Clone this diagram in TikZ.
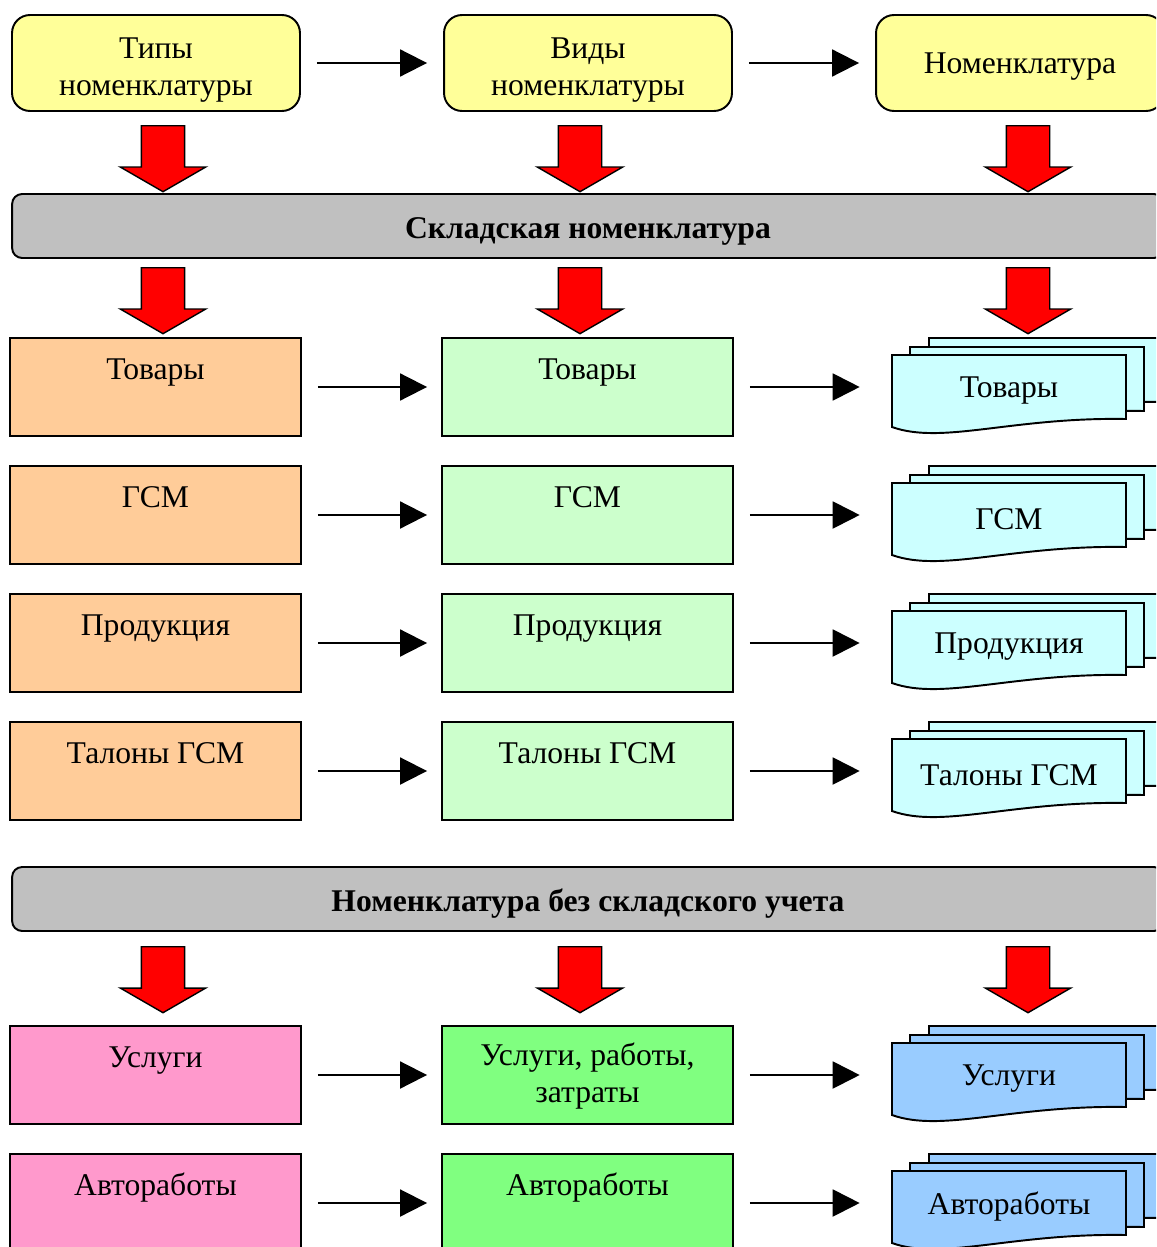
\documentclass[tikz,border=0pt]{standalone}
\usepackage{fontspec}
\setmainfont{Liberation Serif}
\usetikzlibrary{arrows.meta,shapes.arrows}

\definecolor{ylw}{HTML}{FFFF99}
\definecolor{barGrey}{HTML}{C0C0C0}
\definecolor{orng}{HTML}{FFCC99}
\definecolor{ltGreen}{HTML}{CCFFCC}
\definecolor{ltCyan}{HTML}{CCFFFF}
\definecolor{pnk}{HTML}{FF99CC}
\definecolor{grn}{HTML}{80FF80}
\definecolor{ltBlue}{HTML}{99CCFF}

% stack of three documents, #2/#3 = top left corner of the front sheet
\newcommand{\docstack}[5]{%
  \foreach \dx/\dy in {37/17,18/8,0/0}
    \draw[line width=1.1pt,fill=#4,shift={(#2+\dx,#3-\dy)}]
      (0,0) -- (234,0) -- (234,64) .. controls (120,62) and (50,90) .. (0,72) -- cycle;
  \node[docnode] (#1) at (#2+117,#3+36) {#5};
}

\begin{document}
\begin{tikzpicture}[x=0.02cm,y=-0.02cm,
    every node/.style={font=\fontsize{18}{21}\selectfont},
    topbox/.style={draw,line width=1.1pt,rounded corners=0.36cm,fill=ylw,align=center,
      minimum width=5.76cm,minimum height=1.92cm,inner sep=0,text height=41pt},
    barbox/.style={draw,line width=1.1pt,rounded corners=0.2cm,fill=barGrey,
      minimum width=23.04cm,minimum height=1.28cm,text height=18pt,text depth=4pt,
      font=\fontsize{18}{21}\selectfont\bfseries},
    itembox/.style={draw,line width=1.1pt,minimum width=5.82cm,minimum height=1.96cm,
      text height=12pt,text depth=21pt,inner sep=0},
    itemtwo/.style={draw,line width=1.1pt,minimum width=5.82cm,minimum height=1.96cm,
      align=center,inner sep=0,text height=35.5pt},
    docnode/.style={minimum width=4.68cm,minimum height=1.44cm,inner sep=0},
    redarrow/.style={single arrow,draw,fill=red,line width=0.8pt,shape border rotate=270,
      minimum height=1.32cm,single arrow head extend=0.42cm,anchor=tail,
      single arrow tip angle=120,inner sep=0.42cm},
    flow/.style={-{Triangle[length=0.54cm,width=0.54cm]},line width=1.1pt,shorten <=0.32cm}]

    \clip (0,0) rectangle (1156,1247);
    \useasboundingbox (0,0) rectangle (1156,1247);

    % top row
    \node[topbox] (Tip) at (156,63) {Типы\\номенклатуры};
    \node[topbox] (Vid) at (588,63) {Виды\\номенклатуры};
    \node[topbox,text height=16pt,text depth=4pt] (Nom) at (1020,63) {Номенклатура};

    \node[redarrow] (ra1) at (163,125) {};
    \node[redarrow] (ra2) at (580,125) {};
    \node[redarrow] (ra3) at (1028,125) {};

    \node[barbox] (Sklad) at (588,226) {Складская номенклатура};

    \node[redarrow] (ra4) at (163,267) {};
    \node[redarrow] (ra5) at (580,267) {};
    \node[redarrow] (ra6) at (1028,267) {};

    % warehouse items
    \node[itembox,fill=orng] (TTov) at (155.5,387) {Товары};
    \node[itembox,fill=orng] (TGsm) at (155.5,515) {ГСМ};
    \node[itembox,fill=orng] (TPrd) at (155.5,643) {Продукция};
    \node[itembox,fill=orng] (TTal) at (155.5,771) {Талоны ГСМ};

    \node[itembox,fill=ltGreen] (VTov) at (587.5,387) {Товары};
    \node[itembox,fill=ltGreen] (VGsm) at (587.5,515) {ГСМ};
    \node[itembox,fill=ltGreen] (VPrd) at (587.5,643) {Продукция};
    \node[itembox,fill=ltGreen] (VTal) at (587.5,771) {Талоны ГСМ};

    \docstack{NTov}{892}{355}{ltCyan}{Товары}
    \docstack{NGsm}{892}{483}{ltCyan}{ГСМ}
    \docstack{NPrd}{892}{611}{ltCyan}{Продукция}
    \docstack{NTal}{892}{739}{ltCyan}{Талоны ГСМ}

    \node[barbox] (BezSklad) at (588,899) {Номенклатура без складского учета};

    \node[redarrow] (ra7) at (163,946) {};
    \node[redarrow] (ra8) at (580,946) {};
    \node[redarrow] (ra9) at (1028,946) {};

    % items without warehouse
    \node[itembox,fill=pnk] (TUsl) at (155.5,1075) {Услуги};
    \node[itembox,fill=pnk] (TAvt) at (155.5,1203) {Автоработы};
    \node[itemtwo,fill=grn] (VUsl) at (587.5,1075) {Услуги, работы,\\затраты};
    \node[itembox,fill=grn] (VAvt) at (587.5,1203) {Автоработы};

    \docstack{NUsl}{892}{1043}{ltBlue}{Услуги}
    \docstack{NAvt}{892}{1171}{ltBlue}{Автоработы}

    \draw[flow,shorten >=0.32cm] (Tip) -- (Vid);
    \draw[flow,shorten >=0.32cm] (Vid) -- (Nom);

    \draw[flow,shorten >=0.28cm] (TTov) -- (VTov);
    \draw[flow,shorten >=0.28cm] (TGsm) -- (VGsm);
    \draw[flow,shorten >=0.28cm] (TPrd) -- (VPrd);
    \draw[flow,shorten >=0.28cm] (TTal) -- (VTal);
    \draw[flow,shorten >=0.28cm] (TUsl) -- (VUsl);
    \draw[flow,shorten >=0.28cm] (TAvt) -- (VAvt);

    \draw[flow,shorten >=0.64cm] (VTov.east) -- (VTov.east -| NTov.west);
    \draw[flow,shorten >=0.64cm] (VGsm.east) -- (VGsm.east -| NGsm.west);
    \draw[flow,shorten >=0.64cm] (VPrd.east) -- (VPrd.east -| NPrd.west);
    \draw[flow,shorten >=0.64cm] (VTal.east) -- (VTal.east -| NTal.west);
    \draw[flow,shorten >=0.64cm] (VUsl.east) -- (VUsl.east -| NUsl.west);
    \draw[flow,shorten >=0.64cm] (VAvt.east) -- (VAvt.east -| NAvt.west);
  \end{tikzpicture}
\end{document}
